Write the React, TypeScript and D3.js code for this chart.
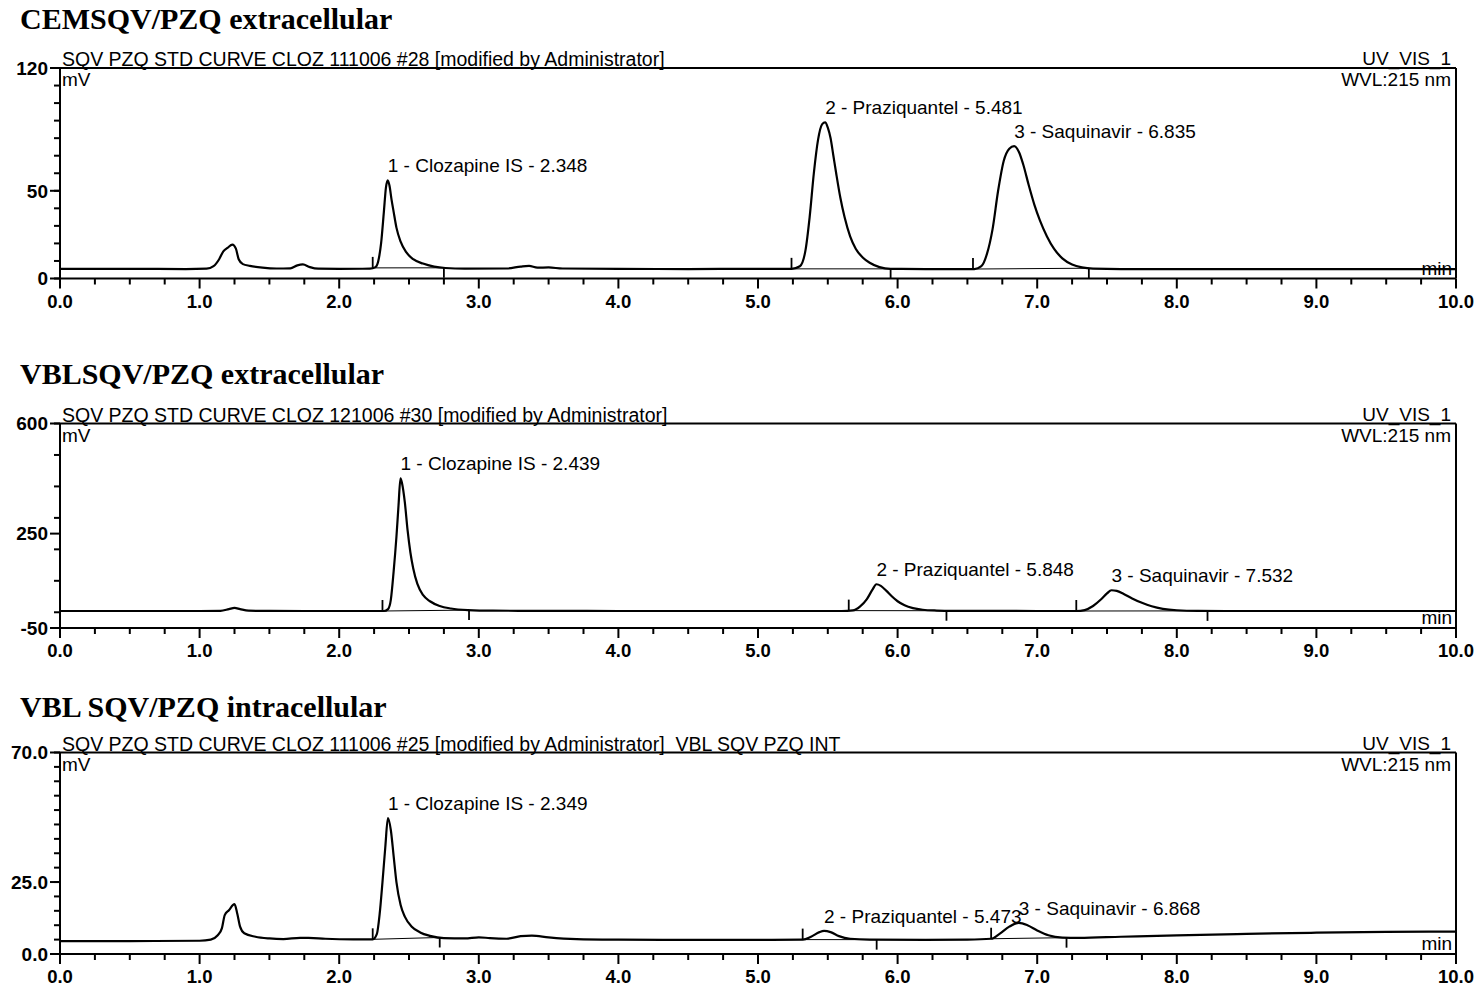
import React, { useEffect, useRef } from "react";
import * as d3 from "d3";

type Pt = [number, number];

// shared time axis (min)
const timeDomain: [number, number] = [0, 10];
const timeTicks = [0, 1, 2, 3, 4, 5, 6, 7, 8, 9, 10];
const timeMinorStep = 0.25;

// ---- CEM extracellular ----
const cemHeading = "CEMSQV/PZQ extracellular";
const cemHeader = "SQV PZQ STD CURVE CLOZ 111006 #28 [modified by Administrator]";
const cemYDomain: [number, number] = [0, 120];
const cemYTicks = [0, 50, 120];
const cemYTickLabels = ["0", "50", "120"];
const cemYMinorStep = 10;
const cemTrace: Pt[] = [
  [0, 5.5], [0.5, 5.5], [0.9, 5.4], [1.05, 5.6], [1.1, 7], [1.14, 11], [1.17, 15.5], [1.2, 17.5],
  [1.235, 19.3], [1.26, 17], [1.28, 11], [1.31, 8.2], [1.36, 7.2], [1.45, 6.2], [1.55, 5.7],
  [1.65, 5.8], [1.7, 7.5], [1.74, 8], [1.79, 6.5], [1.85, 5.6], [2.0, 5.5], [2.22, 5.6],
  [2.26, 6.5], [2.28, 10], [2.3, 20], [2.32, 38], [2.335, 52], [2.348, 56], [2.36, 53],
  [2.375, 45], [2.39, 38], [2.41, 29], [2.44, 21], [2.48, 15], [2.53, 11], [2.6, 8.5],
  [2.68, 6.8], [2.76, 6], [2.9, 5.6], [3.2, 5.7], [3.3, 6.8], [3.36, 7.2], [3.42, 6.2],
  [3.5, 6.3], [3.6, 5.7], [4.0, 5.5], [4.5, 5.4], [5.0, 5.5], [5.24, 5.5], [5.3, 7],
  [5.34, 16], [5.37, 35], [5.4, 60], [5.43, 79], [5.46, 88], [5.481, 89], [5.5, 86],
  [5.52, 80], [5.54, 70], [5.56, 60], [5.59, 46], [5.62, 35], [5.66, 24], [5.7, 17],
  [5.75, 12], [5.8, 9], [5.87, 6.5], [5.95, 5.5], [6.2, 5.4], [6.55, 5.4], [6.6, 7],
  [6.64, 14], [6.68, 28], [6.72, 50], [6.76, 67], [6.8, 74], [6.835, 75.5], [6.87, 72],
  [6.9, 65], [6.94, 53], [6.98, 42], [7.02, 33], [7.07, 24], [7.12, 17], [7.18, 11.5],
  [7.25, 8], [7.32, 6.3], [7.4, 5.6], [7.6, 5.4], [8.0, 5.4], [9.0, 5.4], [10.0, 5.4],
];
const cemPeaks = [
  { label: "1 - Clozapine IS - 2.348", rt: 2.348, apex: 56 },
  { label: "2 - Praziquantel - 5.481", rt: 5.481, apex: 89 },
  { label: "3 - Saquinavir - 6.835", rt: 6.835, apex: 75.5 },
];
const cemMarks: Pt[] = [[2.24, 2.75], [5.24, 5.95], [6.54, 7.37]];

// ---- VBL extracellular ----
const vblExHeading = "VBLSQV/PZQ extracellular";
const vblExHeader = "SQV PZQ STD CURVE CLOZ 121006 #30 [modified by Administrator]";
const vblExYDomain: [number, number] = [-50, 600];
const vblExYTicks = [-50, 250, 600];
const vblExYTickLabels = ["-50", "250", "600"];
const vblExYMinorStep = 100;
const vblExTrace: Pt[] = [
  [0, 4], [0.5, 4], [1.0, 4], [1.15, 4.5], [1.21, 10], [1.25, 14], [1.29, 10], [1.35, 5],
  [1.5, 4.2], [2.0, 4], [2.32, 4], [2.35, 10], [2.37, 40], [2.39, 130], [2.41, 240],
  [2.425, 340], [2.439, 426], [2.45, 410], [2.47, 350], [2.49, 260], [2.51, 190], [2.53, 140],
  [2.56, 90], [2.6, 55], [2.65, 35], [2.72, 20], [2.8, 12], [2.92, 7], [3.1, 5], [3.5, 4.5],
  [4.0, 4], [5.0, 4], [5.6, 4], [5.68, 6], [5.73, 18], [5.78, 42], [5.82, 72], [5.848, 89],
  [5.88, 84], [5.92, 68], [5.96, 50], [6.0, 35], [6.05, 22], [6.11, 13], [6.18, 8],
  [6.28, 5.5], [6.4, 4.5], [7.0, 4], [7.28, 4], [7.34, 7], [7.4, 20], [7.46, 42], [7.5, 60],
  [7.532, 70], [7.57, 68], [7.62, 58], [7.68, 44], [7.75, 30], [7.82, 19], [7.9, 11],
  [8.0, 6.5], [8.15, 4.5], [8.5, 4], [9.0, 4], [10.0, 4],
];
const vblExPeaks = [
  { label: "1 - Clozapine IS - 2.439", rt: 2.439, apex: 426 },
  { label: "2 - Praziquantel - 5.848", rt: 5.848, apex: 89 },
  { label: "3 - Saquinavir - 7.532", rt: 7.532, apex: 70 },
];
const vblExMarks: Pt[] = [[2.31, 2.93], [5.65, 6.35], [7.28, 8.22]];

// ---- VBL intracellular ----
const vblInHeading = "VBL SQV/PZQ intracellular";
const vblInHeader = "SQV PZQ STD CURVE CLOZ 111006 #25 [modified by Administrator]  VBL SQV PZQ INT";
const vblInYDomain: [number, number] = [0, 70];
const vblInYTicks = [0, 25, 70];
const vblInYTickLabels = ["0.0", "25.0", "70.0"];
const vblInYMinorStep = 5;
const vblInTrace: Pt[] = [
  [0, 4.5], [0.5, 4.5], [1.0, 4.6], [1.08, 5], [1.13, 6.5], [1.16, 9], [1.18, 13.5],
  [1.21, 15.2], [1.25, 17.3], [1.27, 14], [1.29, 9.5], [1.32, 7.2], [1.4, 6], [1.5, 5.4],
  [1.6, 5.2], [1.72, 5.6], [1.78, 5.6], [1.9, 5.3], [2.1, 5.1], [2.24, 5.1], [2.27, 7],
  [2.29, 14], [2.31, 25], [2.33, 37], [2.349, 47.2], [2.37, 43], [2.39, 34], [2.41, 25],
  [2.44, 17], [2.47, 13], [2.52, 9.5], [2.58, 7.5], [2.65, 6.3], [2.75, 5.5], [2.9, 5.4],
  [3.0, 5.8], [3.08, 5.5], [3.2, 5.3], [3.3, 6.2], [3.38, 6.4], [3.5, 5.8], [3.7, 5.2],
  [4.0, 5.0], [4.5, 4.9], [5.0, 4.9], [5.32, 5], [5.38, 6], [5.44, 7.6], [5.473, 8],
  [5.52, 7.6], [5.58, 6.2], [5.66, 5.3], [5.8, 5], [6.2, 4.9], [6.5, 5.0], [6.67, 5.3],
  [6.73, 7], [6.8, 9.5], [6.868, 10.8], [6.93, 10], [7.0, 8.2], [7.08, 6.5], [7.18, 5.7],
  [7.3, 5.6], [7.6, 6.0], [8.0, 6.5], [8.5, 7.0], [9.0, 7.4], [9.5, 7.7], [10.0, 7.8],
];
const vblInPeaks = [
  { label: "1 - Clozapine IS - 2.349", rt: 2.349, apex: 47.2 },
  { label: "2 - Praziquantel - 5.473", rt: 5.473, apex: 8 },
  { label: "3 - Saquinavir - 6.868", rt: 6.868, apex: 10.8 },
];
const vblInMarks: Pt[] = [[2.24, 2.72], [5.32, 5.85], [6.67, 7.21]];

const panels = [
  { heading: cemHeading, header: cemHeader, yDomain: cemYDomain, yTicks: cemYTicks, yTickLabels: cemYTickLabels, yMinor: cemYMinorStep, trace: cemTrace, peaks: cemPeaks, marks: cemMarks, headingY: 29, top: 68, bottom: 278.5 },
  { heading: vblExHeading, header: vblExHeader, yDomain: vblExYDomain, yTicks: vblExYTicks, yTickLabels: vblExYTickLabels, yMinor: vblExYMinorStep, trace: vblExTrace, peaks: vblExPeaks, marks: vblExMarks, headingY: 384, top: 423.5, bottom: 628 },
  { heading: vblInHeading, header: vblInHeader, yDomain: vblInYDomain, yTicks: vblInYTicks, yTickLabels: vblInYTickLabels, yMinor: vblInYMinorStep, trace: vblInTrace, peaks: vblInPeaks, marks: vblInMarks, headingY: 717, top: 752.5, bottom: 954 },
];

const W = 1482;
const H = 986;
const LEFT = 60;
const RIGHT = 1456;
const SANS = "'Liberation Sans', Arial, sans-serif";
const SERIF = "'Liberation Serif', 'Times New Roman', serif";

function valueAt(trace: Pt[], t: number) {
  const i = d3.bisector((d: Pt) => d[0]).left(trace, t);
  if (i <= 0) return trace[0][1];
  if (i >= trace.length) return trace[trace.length - 1][1];
  const [t0, v0] = trace[i - 1];
  const [t1, v1] = trace[i];
  return v0 + ((t - t0) / (t1 - t0)) * (v1 - v0);
}

export default function App() {
  const svgRef = useRef<SVGSVGElement | null>(null);

  useEffect(() => {
    document.body.style.margin = "0";
    const svg = d3.select(svgRef.current);
    svg.selectAll("*").remove();
    svg.append("rect").attr("width", W).attr("height", H).attr("fill", "#fff");

    const x = d3.scaleLinear().domain(timeDomain).range([LEFT, RIGHT]);

    panels.forEach((p) => {
      const g = svg.append("g");
      const y = d3.scaleLinear().domain(p.yDomain).range([p.bottom, p.top]);

      // heading
      g.append("text")
        .attr("x", 20)
        .attr("y", p.headingY)
        .attr("font-family", SERIF)
        .attr("font-weight", "bold")
        .attr("font-size", 30)
        .text(p.heading);

      // header line text
      g.append("text")
        .attr("x", 62)
        .attr("y", p.top - 2)
        .attr("font-family", SANS)
        .attr("font-size", 19.5)
        .style("white-space", "pre")
        .text(p.header);

      g.append("text")
        .attr("x", 1451)
        .attr("y", p.top - 3)
        .attr("text-anchor", "end")
        .attr("font-family", SANS)
        .attr("font-size", 19)
        .text("UV_VIS_1");

      g.append("text")
        .attr("x", 1451)
        .attr("y", p.top + 18)
        .attr("text-anchor", "end")
        .attr("font-family", SANS)
        .attr("font-size", 19)
        .text("WVL:215 nm");

      g.append("text")
        .attr("x", 62)
        .attr("y", p.top + 18)
        .attr("font-family", SANS)
        .attr("font-size", 19)
        .text("mV");

      g.append("text")
        .attr("x", 1452)
        .attr("y", p.bottom - 4)
        .attr("text-anchor", "end")
        .attr("font-family", SANS)
        .attr("font-size", 19)
        .text("min");

      // frame: top line, left axis, right border, bottom axis
      const frame = g.append("g").attr("stroke", "#000").attr("stroke-width", 2).attr("fill", "none");
      frame.append("line").attr("x1", LEFT).attr("x2", RIGHT).attr("y1", p.top).attr("y2", p.top);
      frame.append("line").attr("x1", LEFT).attr("x2", LEFT).attr("y1", p.top).attr("y2", p.bottom);
      frame.append("line").attr("x1", RIGHT).attr("x2", RIGHT).attr("y1", p.top).attr("y2", p.bottom);
      frame.append("line").attr("x1", LEFT).attr("x2", RIGHT).attr("y1", p.bottom).attr("y2", p.bottom);

      // x ticks
      const minorX = d3.range(timeDomain[0], timeDomain[1] + 1e-9, timeMinorStep);
      frame.selectAll("line.xminor")
        .data(minorX)
        .join("line")
        .attr("x1", (d) => x(d))
        .attr("x2", (d) => x(d))
        .attr("y1", p.bottom)
        .attr("y2", (d) => p.bottom + (Math.abs(d - Math.round(d)) < 1e-6 ? 10 : 6));

      g.selectAll("text.xlab")
        .data(timeTicks)
        .join("text")
        .attr("x", (d) => x(d))
        .attr("y", p.bottom + 29)
        .attr("text-anchor", "middle")
        .attr("font-family", SANS)
        .attr("font-weight", "bold")
        .attr("font-size", 18.5)
        .text((d) => d.toFixed(1));

      // y ticks
      const lo = Math.ceil(p.yDomain[0] / p.yMinor) * p.yMinor;
      const minorY = d3.range(lo, p.yDomain[1] + 1e-9, p.yMinor);
      frame.selectAll("line.yminor")
        .data(minorY)
        .join("line")
        .attr("x1", LEFT - 6)
        .attr("x2", LEFT)
        .attr("y1", (d) => y(d))
        .attr("y2", (d) => y(d));
      frame.selectAll("line.ymajor")
        .data(p.yTicks)
        .join("line")
        .attr("x1", LEFT - 10)
        .attr("x2", LEFT)
        .attr("y1", (d) => y(d))
        .attr("y2", (d) => y(d));

      g.selectAll("text.ylab")
        .data(p.yTicks)
        .join("text")
        .attr("x", LEFT - 12)
        .attr("y", (d) => y(d))
        .attr("dy", "0.36em")
        .attr("text-anchor", "end")
        .attr("font-family", SANS)
        .attr("font-weight", "bold")
        .attr("font-size", 19)
        .text((d, i) => p.yTickLabels[i]);

      // trace
      const line = d3
        .line<Pt>()
        .x((d) => x(d[0]))
        .y((d) => y(d[1]))
        .curve(d3.curveMonotoneX);
      g.append("path")
        .datum(p.trace)
        .attr("d", line)
        .attr("fill", "none")
        .attr("stroke", "#000")
        .attr("stroke-width", 2.2)
        .attr("stroke-linejoin", "round");

      // integration marks: start tick up, end tick down
      const marks = g.append("g").attr("stroke", "#000").attr("stroke-width", 1.8);
      p.marks.forEach(([s, e]) => {
        const ys = y(valueAt(p.trace, s));
        const ye = y(valueAt(p.trace, e));
        marks.append("line").attr("x1", x(s)).attr("x2", x(s)).attr("y1", ys).attr("y2", ys - 11);
        marks.append("line").attr("x1", x(e)).attr("x2", x(e)).attr("y1", ye).attr("y2", ye + 10);
        marks.append("line")
          .attr("x1", x(s)).attr("x2", x(e)).attr("y1", ys).attr("y2", ye)
          .attr("stroke-width", 1);
      });

      // peak labels
      g.selectAll("text.peak")
        .data(p.peaks)
        .join("text")
        .attr("x", (d) => x(d.rt))
        .attr("y", (d) => y(d.apex) - 8)
        .attr("font-family", SANS)
        .attr("font-size", 19)
        .text((d) => d.label);
    });
  }, []);

  return <svg ref={svgRef} width={W} height={H} style={{ display: "block" }} />;
}
